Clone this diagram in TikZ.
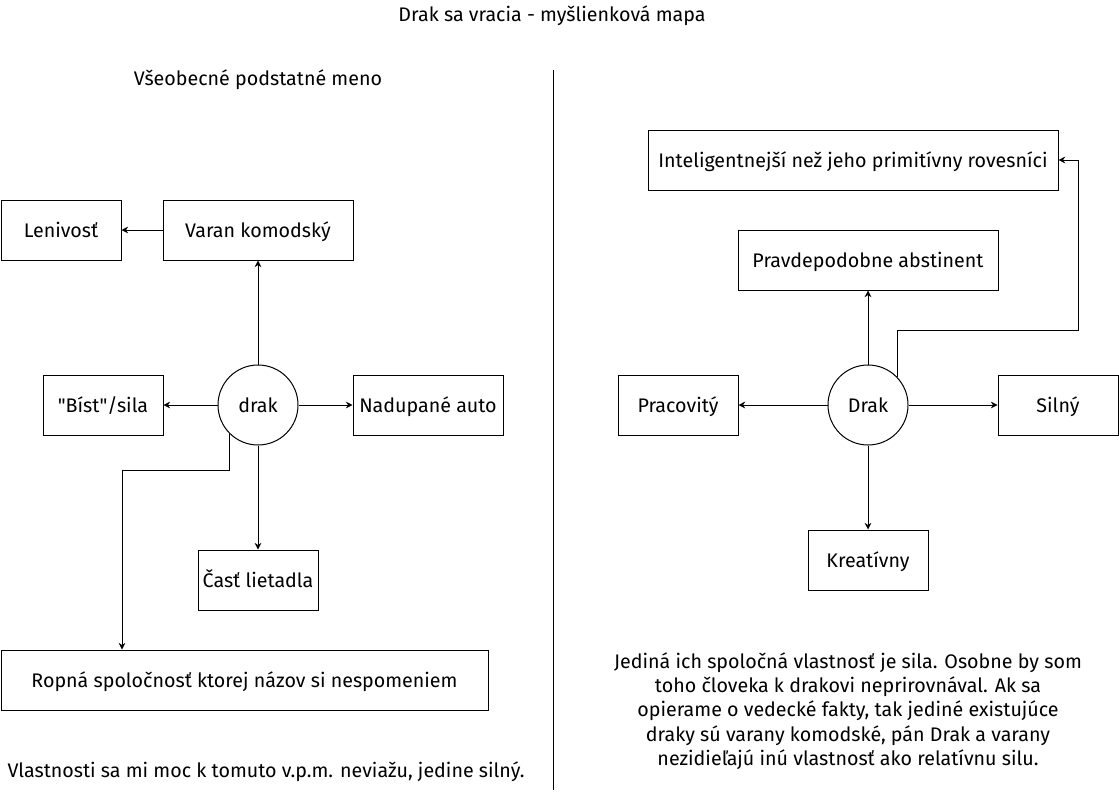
\documentclass[tikz,border=0pt]{standalone}
\usepackage{fontspec}
\setmainfont{Fira Sans}
\usetikzlibrary{arrows.meta,calc}
\begin{document}
\begin{tikzpicture}[x=0.75pt,y=-0.75pt,
  font=\fontsize{14.75}{17}\selectfont,
  line width=0.75pt,
  box/.style={draw,rectangle,inner sep=0pt,minimum width=#1,minimum height=45pt,text height=11.5pt,text depth=0pt},
  hub/.style={draw,circle,inner sep=0pt,minimum size=60pt,text height=11.5pt,text depth=0pt},
  arr/.style={-{Stealth[length=5pt,width=5pt]}},
  txt/.style={inner sep=0pt,align=center}]
\useasboundingbox (0,0) rectangle (1119,792);
% texts
\node[txt] (title) at (552,16) {Drak sa vracia - myšlienková mapa};
\node[txt] (sub) at (258,80) {Všeobecné podstatné meno};
\coordinate (divtop) at (553,70);
\coordinate (divbot) at (553,790);
\draw (divtop) -- (divbot);
% left map
\node[box=90pt] (leni) at (61,230) {Lenivosť};
\node[box=142.5pt] (varan) at (258,230) {Varan komodský};
\node[box=90pt] (bist) at (103,405) {\textquotedbl Bíst\textquotedbl/sila};
\node[hub] (drak) at (258,405) {drak};
\node[box=112.5pt] (auto) at (428,405) {Nadupané auto};
\node[box=90pt] (cast) at (258,580) {Časť lietadla};
\node[box=365.25pt] (ropna) at (244.5,680) {Ropná spoločnosť ktorej názov si nespomeniem};
\node[txt] (note1) at (266,772) {Vlastnosti sa mi moc k tomuto v.p.m. neviažu, jedine silný.};
\draw[arr] (varan) -- (leni);
\draw[arr] (drak) -- (varan);
\draw[arr] (drak) -- (bist);
\draw[arr] (drak) -- (auto);
\draw[arr] (drak) -- (cast);
\coordinate (bendL) at (122,470);
\draw[arr] (drak.-135) |- (bendL) -- (ropna.north -| bendL);
% right map
\node[box=307.5pt] (intel) at (853,160) {Inteligentnejší než jeho primitívny rovesníci};
\node[box=195pt] (abst) at (868,260) {Pravdepodobne abstinent};
\node[box=90pt] (prac) at (678,405) {Pracovitý};
\node[hub] (Drak) at (868,405) {Drak};
\node[box=90pt] (siln) at (1058,405) {Silný};
\node[box=90pt] (krea) at (868,560) {Kreatívny};
\node[txt,font=\fontsize{14.75}{18.2}\selectfont] (note2) at (848,711) {Jediná ich spoločná vlastnosť je sila. Osobne by som\\toho človeka k drakovi neprirovnával. Ak sa\\opierame o vedecké fakty, tak jediné existujúce\\draky sú varany komodské, pán Drak a varany\\nezidieľajú inú vlastnosť ako relatívnu silu.};
\draw[arr] (Drak) -- (abst);
\draw[arr] (Drak) -- (prac);
\draw[arr] (Drak) -- (siln);
\draw[arr] (Drak) -- (krea);
\coordinate (bendR1) at (897,330);
\coordinate (bendR2) at (1078,160);
\draw[arr] (Drak.44) |- (bendR1 -| bendR2) -- (bendR2) -- (intel.east);
\end{tikzpicture}
\end{document}
